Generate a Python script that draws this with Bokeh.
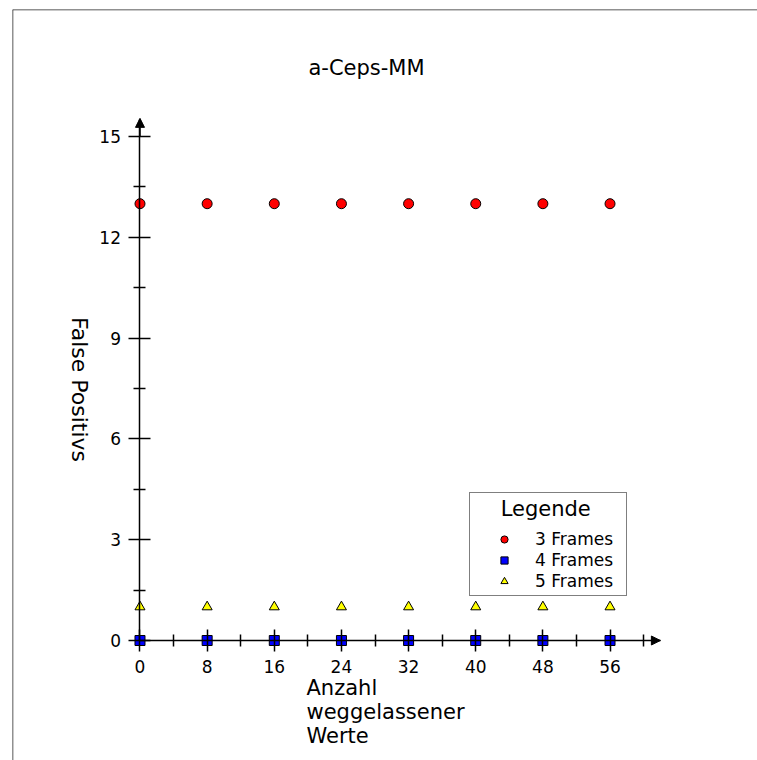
import math

from bokeh.embed import file_html
from bokeh.models import (Arrow, FixedTicker, Label, Legend, LegendItem,
                          LinearAxis, NormalHead, Range1d, Span)
from bokeh.plotting import figure
from bokeh.resources import INLINE

# Number of omitted values (x) and false positives per frame setting
omitted_values = [0, 8, 16, 24, 32, 40, 48, 56]
fp_3_frames = [13, 13, 13, 13, 13, 13, 13, 13]
fp_4_frames = [0, 0, 0, 0, 0, 0, 0, 0]
fp_5_frames = [1, 1, 1, 1, 1, 1, 1, 1]

series_names = ["3 Frames", "4 Frames", "5 Frames"]

x_ticks = [0, 8, 16, 24, 32, 40, 48, 56]
x_minor_ticks = [4, 12, 20, 28, 36, 44, 52, 60]
y_ticks = [0, 3, 6, 9, 12, 15]
y_minor_ticks = [1.5, 4.5, 7.5, 10.5, 13.5]

FONT = "DejaVu Sans"
W, H = 757, 760
LEFT, TOP = 12, 9

p = figure(width=W, height=H, output_backend="svg", toolbar_location=None,
           x_axis_type=None, y_axis_type=None,
           x_range=Range1d(-15.19, 73.57), y_range=Range1d(-3.571, 18.78),
           min_border_left=LEFT, min_border_top=TOP,
           min_border_right=0, min_border_bottom=0,
           outline_line_color=None, background_fill_color="white",
           border_fill_color="white")

# page frame: left and top edges
p.add_layout(Span(location=p.x_range.start, dimension="height",
                  line_color="#222222", line_width=1.5))
p.add_layout(Span(location=p.y_range.end, dimension="width",
                  line_color="#222222", line_width=1.5))


def style_axis(ax):
    ax.axis_line_width = 1.5
    ax.axis_line_color = "black"
    ax.major_tick_line_width = 1.5
    ax.minor_tick_line_width = 1.5
    ax.major_tick_line_color = "black"
    ax.minor_tick_line_color = "black"
    ax.major_tick_in = 11
    ax.major_tick_out = 11
    ax.minor_tick_in = 6
    ax.minor_tick_out = 6
    ax.major_label_text_font = FONT
    ax.major_label_text_font_size = "17px"
    ax.major_label_text_color = "black"


# axes crossing at the origin
xaxis = LinearAxis(fixed_location=0,
                   ticker=FixedTicker(ticks=x_ticks, minor_ticks=x_minor_ticks),
                   bounds=(0, 62))
style_axis(xaxis)
xaxis.major_label_standoff = 8
p.add_layout(xaxis, "below")

yaxis = LinearAxis(fixed_location=0,
                   ticker=FixedTicker(ticks=y_ticks, minor_ticks=y_minor_ticks),
                   bounds=(0, 15.5))
style_axis(yaxis)
yaxis.major_label_standoff = 8
p.add_layout(yaxis, "left")

# arrow heads at the axis ends
p.add_layout(Arrow(end=NormalHead(size=9, fill_color="black", line_color="black"),
                   x_start=61.0, y_start=0, x_end=62.0, y_end=0,
                   line_width=1.5, line_color="black"))
p.add_layout(Arrow(end=NormalHead(size=9, fill_color="black", line_color="black"),
                   x_start=0, y_start=15.0, x_end=0, y_end=15.54,
                   line_width=1.5, line_color="black"))

r3 = p.scatter(omitted_values, fp_3_frames, marker="circle", size=10,
               fill_color="#ff0000", line_color="black", line_width=1)
r5 = p.scatter(omitted_values, fp_5_frames, marker="triangle", size=10,
               fill_color="#ffff00", line_color="black", line_width=1)
r4 = p.scatter(omitted_values, fp_4_frames, marker="square", size=10,
               fill_color="#0000ff", line_color="black", line_width=1)

# title and axis labels
p.add_layout(Label(x=366 - LEFT, y=H - 67, x_units="screen", y_units="screen",
                   text="a-Ceps-MM", text_align="center", text_baseline="middle",
                   text_font=FONT, text_font_size="21px", text_color="black"))
p.add_layout(Label(x=79 - LEFT, y=H - 389, x_units="screen", y_units="screen",
                   text="False Positivs", angle=-math.pi / 2,
                   text_align="center", text_baseline="middle",
                   text_font=FONT, text_font_size="22px", text_color="black"))
p.add_layout(Label(x=306 - LEFT, y=H - 675, x_units="screen", y_units="screen",
                   text="Anzahl\nweggelassener\nWerte",
                   text_align="left", text_baseline="top", text_line_height=1.0,
                   text_font=FONT, text_font_size="21px", text_color="black"))

legend = Legend(
    items=[LegendItem(label=series_names[0], renderers=[r3]),
           LegendItem(label=series_names[1], renderers=[r4]),
           LegendItem(label=series_names[2], renderers=[r5])],
    title="\u00a0\u00a0\u00a0\u00a0Legende",
    location=(469 - LEFT, H - 596),
    padding=4, spacing=1, glyph_height=18, label_height=18,
    glyph_width=60, label_standoff=1, label_width=87, title_standoff=8,
    border_line_color="black", border_line_width=1.5,
    background_fill_color="white", background_fill_alpha=1,
    label_text_font=FONT, label_text_font_size="17px", label_text_color="black",
    title_text_font=FONT, title_text_font_size="21px", title_text_color="black",
    title_text_font_style="normal",
)
p.add_layout(legend, "center")

open("out.html", "w").write(file_html(p, INLINE))
